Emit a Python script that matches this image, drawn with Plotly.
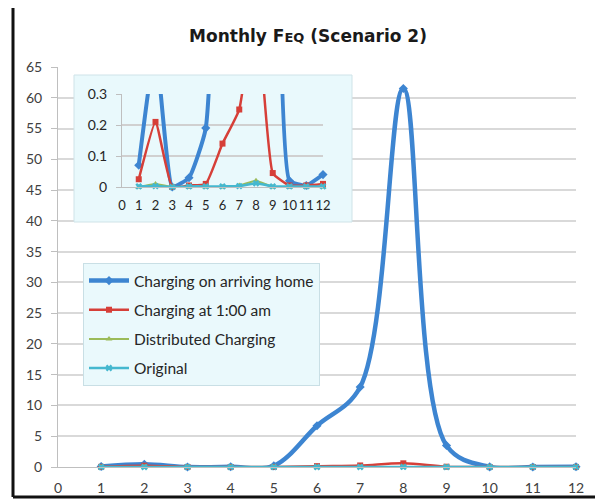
import plotly.graph_objects as go

months = [1, 2, 3, 4, 5, 6, 7, 8, 9, 10, 11, 12]
arriving_home = [0.07, 0.45, 0.0, 0.03, 0.19, 6.7, 13.0, 61.5, 3.5, 0.02, 0.005, 0.04]
at_1am = [0.025, 0.21, 0.0, 0.005, 0.01, 0.14, 0.25, 0.6, 0.045, 0.005, 0.005, 0.01]
distributed = [0.0, 0.01, 0.0, 0.0, 0.0, 0.0, 0.005, 0.02, 0.0, 0.0, 0.0, 0.0]
original = [0.002, 0.003, 0.0, 0.002, 0.002, 0.002, 0.003, 0.012, 0.002, 0.002, 0.002, 0.002]

main_yticks = list(range(0, 70, 5))
main_xticks = list(range(0, 13))
inset_yticks = [0, 0.1, 0.2, 0.3]
inset_yticklabels = ["0", "0.1", "0.2", "0.3"]

series = [
    ("Charging on arriving home", arriving_home, "#3d85d1", 4.5, "diamond", 7),
    ("Charging at 1:00 am", at_1am, "#d63f38", 2.5, "square", 6),
    ("Distributed Charging", distributed, "#9bbb59", 2, "triangle-up", 6),
    ("Original", original, "#45b8cf", 2.5, "x", 6),
]

FONT = "Lato, 'Open Sans', sans-serif"
OFF = 8  # browser body margin offset (page px -> figure px)

fig = go.Figure()

for i, (name, vals, color, width, sym, msize) in enumerate(series):
    fig.add_trace(go.Scatter(
        x=months, y=vals, name=name, mode="lines+markers",
        line=dict(color=color, width=width, shape="spline", smoothing=1.0),
        marker=dict(symbol=sym, size=msize, color=color),
        cliponaxis=False, legendgroup=f"g{i}",
        xaxis="x", yaxis="y",
    ))

for i, (name, vals, color, width, sym, msize) in enumerate(series):
    fig.add_trace(go.Scatter(
        x=months, y=vals, name=name, mode="lines+markers",
        line=dict(color=color, width=4 if i == 0 else width, shape="spline", smoothing=0.4),
        marker=dict(symbol=sym, size=msize, color=color),
        showlegend=False, cliponaxis=False,
        xaxis="x2", yaxis="y2",
    ))

axis_font = dict(family=FONT, size=14, color="#404040")
inset_font = dict(family=FONT, size=13, color="#262626")

fig.update_layout(
    width=603 - OFF, height=501 - OFF,
    margin=dict(l=58 - OFF, r=27, t=67 - OFF, b=34, autoexpand=False),
    paper_bgcolor="white",
    plot_bgcolor="rgba(0,0,0,0)",
    font=dict(family=FONT, color="#404040"),
    title=dict(
        text="<b>Monthly F<span style='font-size:13px'>EQ</span> (Scenario 2)</b>",
        font=dict(family="DejaVu Sans", size=17, color="#1a1a1a"),
        x=(308 - 58) / 518, xref="paper", xanchor="center",
        y=1 - (36 - OFF) / (501 - OFF), yref="container", yanchor="middle",
    ),
    xaxis=dict(
        range=[0, 12], tickvals=main_xticks, ticktext=[str(v) for v in main_xticks],
        showgrid=False, zeroline=False, showline=True, linecolor="#bfbfbf", linewidth=1,
        ticks="", tickfont=axis_font, ticklabelstandoff=8, automargin=False,
    ),
    yaxis=dict(
        range=[0, 65], tickvals=main_yticks, ticktext=[str(v) for v in main_yticks],
        showgrid=True, gridcolor="#d9d9d9", gridwidth=1.5, zeroline=False,
        showline=True, linecolor="#bfbfbf", linewidth=1,
        ticks="outside", ticklen=6, tickcolor="#bfbfbf",
        tickfont=axis_font, ticklabelstandoff=6, automargin=False,
    ),
    xaxis2=dict(
        domain=[(122 - 58) / 518, (323 - 58) / 518], anchor="y2",
        range=[0, 12], tickvals=main_xticks, ticktext=[str(v) for v in main_xticks],
        showgrid=False, zeroline=False, showline=True, linecolor="#bfbfbf",
        ticks="", tickfont=inset_font, tickangle=0, ticklabelstandoff=6, automargin=False,
    ),
    yaxis2=dict(
        domain=[(467 - 187) / 400, (467 - 94) / 400], anchor="x2",
        range=[0, 0.3], tickvals=inset_yticks, ticktext=inset_yticklabels,
        showgrid=True, gridcolor="#d0d0d0", gridwidth=1.5, zeroline=False,
        showline=True, linecolor="#bfbfbf",
        ticks="outside", ticklen=5, tickcolor="#bfbfbf",
        tickfont=dict(family=FONT, size=14, color="#262626"), ticklabelstandoff=6, automargin=False,
    ),
    legend=dict(
        x=(83 - 58) / 518, y=(467 - 263) / 400, xanchor="left", yanchor="top",
        bgcolor="#eaf9fc", bordercolor="#c9dfe5", borderwidth=1,
        font=dict(family=FONT, size=15.5, color="#262626"),
        tracegroupgap=6, itemwidth=40,
    ),
    showlegend=True,
)

# inset background box (covers main gridlines, under traces)
fig.add_shape(
    type="rect", xref="x", yref="y",
    x0=(74 - 58) / 518 * 12, x1=(352 - 58) / 518 * 12,
    y0=(467 - 222) / 400 * 65, y1=(467 - 75) / 400 * 65,
    fillcolor="#e9f9fc", line=dict(color="#cfe3e8", width=1), layer="between",
)

# outer frame (paper coords relative to plot area)
frame = dict(color="#111111", width=3)
px = lambda p: (p - 58) / 518
py = lambda p: (467 - p) / 400
fig.add_shape(type="line", xref="paper", yref="paper",
              x0=px(13), x1=px(604), y0=py(6), y1=py(6), line=frame)
fig.add_shape(type="line", xref="paper", yref="paper",
              x0=px(13), x1=px(13), y0=py(6), y1=py(497), line=frame)
fig.add_shape(type="line", xref="paper", yref="paper",
              x0=px(13), x1=px(604), y0=py(497), y1=py(497), line=frame)
fig.add_shape(type="line", xref="paper", yref="paper",
              x0=px(598), x1=px(598), y0=py(8), y1=py(495),
              line=dict(color="#e6e6e6", width=1))

fig.write_html("out.html")
